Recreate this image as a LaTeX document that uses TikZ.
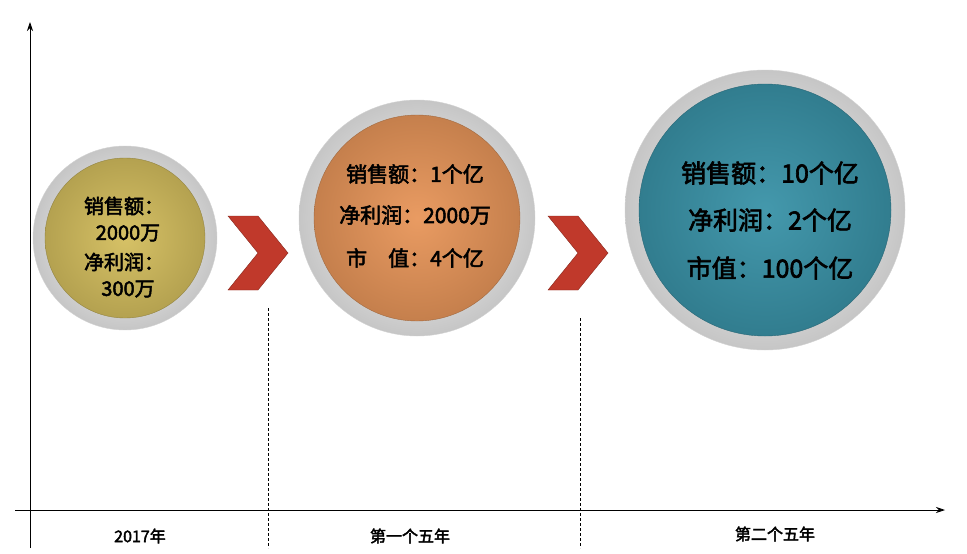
\documentclass[tikz,border=0pt]{standalone}
\usepackage{fontspec}
\newfontfamily\cjk{Noto Sans CJK SC}[AutoFakeBold=2.5]
\setmainfont{Liberation Serif}
\usetikzlibrary{arrows.meta}
\definecolor{gold}{HTML}{D4BE5E}
\definecolor{orng}{HTML}{E8965A}
\definecolor{teal2}{HTML}{3A93A8}
\definecolor{chev}{HTML}{C0392B}
\tikzset{
  axis/.style={line width=0.8pt,-{Stealth[length=9pt,width=6pt]}},
  guide/.style={densely dashed,line width=0.5pt},
  ring/.style={circle,inner sep=0pt,shading=radial,inner color=white,middle color=gray!8,outer color=gray!45,draw=gray!35},
  ballgold/.style={circle,inner sep=0pt,shading=radial,inner color=gold!95!white,outer color=gold!85!black,draw=gold!70!black},
  ballorng/.style={circle,inner sep=0pt,shading=radial,inner color=orng!95!white,outer color=orng!85!black,draw=orng!70!black},
  ballteal/.style={circle,inner sep=0pt,shading=radial,inner color=teal2!95!white,outer color=teal2!85!black,draw=teal2!70!black},
  lbl/.style={font=\cjk\bfseries\fontsize{16}{18}\selectfont},
  chevron/.style={fill=chev,draw=chev!70!black}
}
\begin{document}
\begin{tikzpicture}[x=1pt,y=-1pt]
\useasboundingbox (0,0) rectangle (967,554);
\coordinate (o1) at (30,548);
\coordinate (o2) at (30,22);
\coordinate (h1) at (15,510);
\coordinate (h2) at (945,510);
\draw[axis] (o1) -- (o2);
\draw[axis] (h1) -- (h2);
\coordinate (d1a) at (268,308); \coordinate (d1b) at (268,548);
\coordinate (d2a) at (580,318); \coordinate (d2b) at (580,548);
\draw[guide] (d1a) -- (d1b);
\draw[guide] (d2a) -- (d2b);
\node[lbl,fill=white,inner sep=1pt] (t1) at (140,536) {2017年};
\node[lbl,fill=white,inner sep=1pt] (t2) at (410,536) {第一个五年};
\node[lbl,fill=white,inner sep=1pt] (t3) at (775,534) {第二个五年};
% circle 1
\node[ring,minimum size=184pt] (r1) at (125,238) {};
\node[ballgold,minimum size=160pt] (b1) at (125,238) {};
\node[lbl,font=\cjk\bfseries\fontsize{20}{22}\selectfont] at (124,206) {销售额：};
\node[lbl,font=\cjk\bfseries\fontsize{20}{22}\selectfont] at (128,233) {2000万};
\node[lbl,font=\cjk\bfseries\fontsize{20}{22}\selectfont] at (124,262) {净利润：};
\node[lbl,font=\cjk\bfseries\fontsize{20}{22}\selectfont] at (128,289) {300万};
% circle 2
\node[ring,minimum size=236pt] (r2) at (417,218) {};
\node[ballorng,minimum size=206pt] (b2) at (417,218) {};
\node[lbl,font=\cjk\bfseries\fontsize{21}{23}\selectfont] at (415,174) {销售额：1个亿};
\node[lbl,font=\cjk\bfseries\fontsize{21}{23}\selectfont] at (415,215) {净利润：2000万};
\node[lbl,font=\cjk\bfseries\fontsize{21}{23}\selectfont] at (415,258) {市\quad 值：4个亿};
% circle 3
\node[ring,minimum size=280pt] (r3) at (765,210) {};
\node[ballteal,minimum size=252pt] (b3) at (765,210) {};
\node[lbl,font=\cjk\bfseries\fontsize{25}{27}\selectfont] at (770,173) {销售额：10个亿};
\node[lbl,font=\cjk\bfseries\fontsize{25}{27}\selectfont] at (770,220) {净利润：2个亿};
\node[lbl,font=\cjk\bfseries\fontsize{25}{27}\selectfont] at (770,268) {市值：100个亿};
% chevrons
\fill[chevron] (228,216) -- (258,216) -- (288,253) -- (258,290) -- (228,290) -- (258,253) -- cycle;
\fill[chevron] (548,216) -- (578,216) -- (608,253) -- (578,290) -- (548,290) -- (578,253) -- cycle;
\end{tikzpicture}
\end{document}
